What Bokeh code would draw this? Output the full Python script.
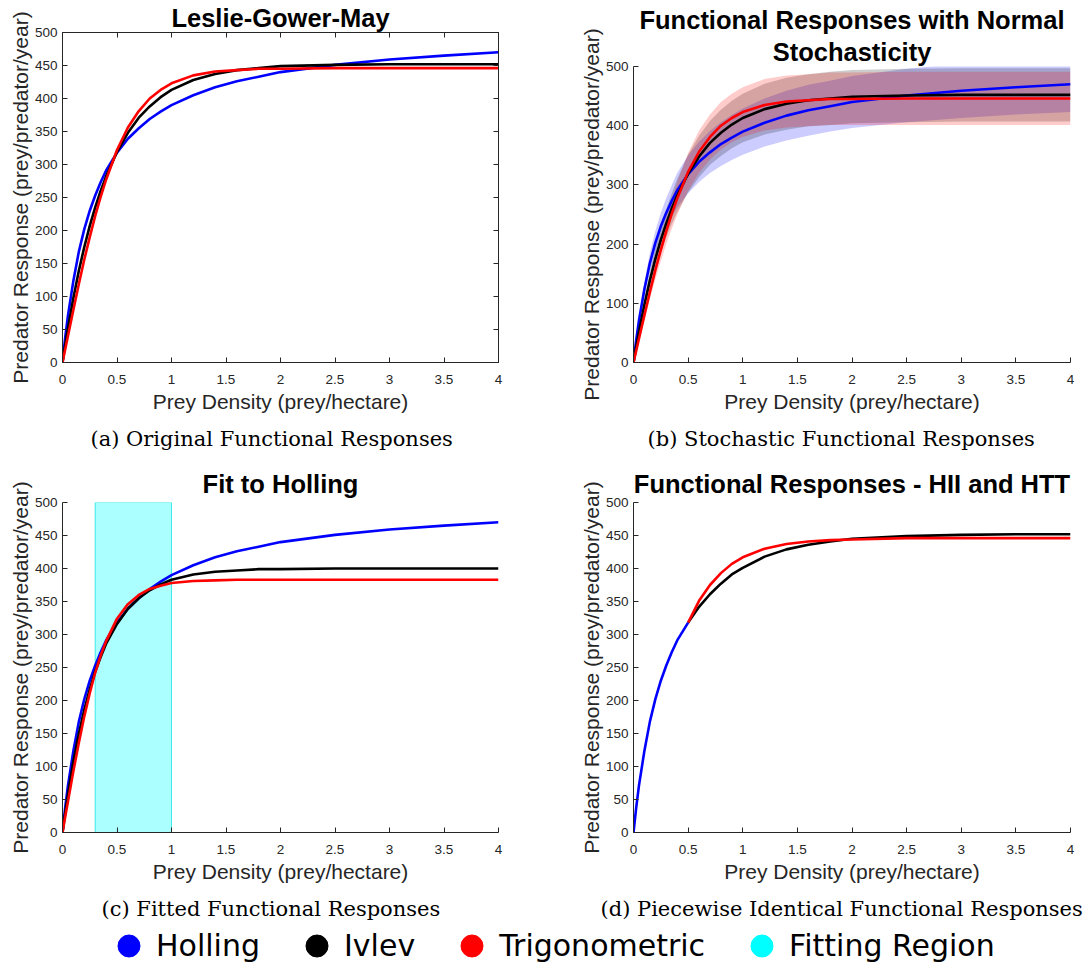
from bokeh.plotting import figure
from bokeh.layouts import column, row
from bokeh.models import (Range1d, FixedTicker, NumeralTickFormatter, LinearAxis,
                          Title, Legend, LegendItem)
from bokeh.embed import file_html
from bokeh.resources import INLINE

# ---------------- data ----------------
prey = [0, 0.025, 0.05, 0.1, 0.15, 0.2, 0.25, 0.3, 0.35, 0.4, 0.5, 0.6, 0.7, 0.8,
        0.9, 1.0, 1.2, 1.4, 1.6, 1.8, 2.0, 2.5, 3.0, 3.5, 4.0]
holling = [0, 38, 71, 124, 168, 202, 230, 253, 273, 291, 318, 339, 355, 369, 380,
           390, 405, 417, 426, 433, 440, 451, 459, 465, 470]
ivlev = [0, 27, 52, 98, 139, 175, 207, 235, 260, 282, 319, 348, 371, 388, 402,
         413, 428, 437, 443, 446, 449, 451, 452, 452, 452]
trig = [0, 20, 40, 80, 119, 156, 190, 222, 251, 277, 322, 356, 381, 400, 413,
        423, 435, 441, 443, 445, 445, 446, 446, 446, 446]

# stochastic envelopes (panel b)
holling_lo = [0, 34, 64, 112, 151, 182, 207, 228, 246, 262, 286, 305, 320, 332, 342,
              351, 365, 375, 383, 390, 396, 406, 413, 419, 423]
holling_hi = [0, 42, 78, 136, 185, 222, 253, 278, 300, 320, 350, 373, 391, 406, 418,
              429, 446, 459, 469, 476, 484, 496, 505, 512, 517]
ivlev_lo = [0, 24, 47, 88, 125, 158, 186, 212, 234, 254, 287, 313, 334, 349, 362,
            372, 385, 393, 399, 401, 404, 406, 407, 407, 407]
ivlev_hi = [0, 30, 57, 108, 153, 193, 228, 259, 286, 310, 351, 383, 408, 427, 442,
            454, 471, 481, 487, 491, 494, 496, 497, 497, 497]
trig_lo = [0, 18, 36, 72, 107, 140, 171, 200, 226, 249, 290, 320, 343, 360, 372,
           381, 392, 397, 399, 401, 401, 401, 401, 401, 401]
trig_hi = [0, 22, 44, 88, 131, 172, 209, 244, 276, 305, 354, 392, 419, 440, 454,
           465, 479, 485, 487, 490, 490, 491, 491, 491, 491]

# fitted to Holling (panel c)
ivlev_fit = [0, 30, 58, 108, 150, 186, 217, 244, 266, 286, 316, 339, 355, 367, 376,
             383, 391, 395, 397, 399, 399, 400, 400, 400, 400]
trig_fit = [0, 24, 47, 93, 136, 176, 211, 242, 268, 290, 324, 346, 360, 369, 374,
            378, 381, 382, 383, 383, 383, 383, 383, 383, 383]
fit_region = [0.3, 1.0]

# piecewise (panel d)
prey_hol_d = [0, 0.025, 0.05, 0.1, 0.15, 0.2, 0.25, 0.3, 0.35, 0.4, 0.5]
holling_d = [0, 38, 71, 124, 168, 202, 230, 253, 273, 291, 318]
prey_d = [0.5, 0.6, 0.7, 0.8, 0.9, 1.0, 1.2, 1.4, 1.6, 1.8, 2.0, 2.5, 3.0, 3.5, 4.0]
ivlev_d = [318, 342, 361, 377, 391, 401, 418, 429, 436, 441, 445, 449, 451, 452, 452]
trig_d = [318, 351, 375, 393, 407, 417, 430, 437, 441, 443, 444, 446, 446, 446, 446]

x_ticks = [0, 0.5, 1, 1.5, 2, 2.5, 3, 3.5, 4]
y_ticks_fine = [0, 50, 100, 150, 200, 250, 300, 350, 400, 450, 500]
y_ticks_coarse = [0, 100, 200, 300, 400, 500]

legend_labels = ["Holling", "Ivlev", "Trigonometric", "Fitting Region"]
legend_colors = ["#0000ff", "#000000", "#ff0000", "#00ffff"]

# ---------------- styling ----------------
SANS = "Liberation Sans"
SERIF = "DejaVu Serif"
AXC = "#262626"
LW = 2.6
TITLE_SIZE = "25.5px"


def style_axis(ax, ticks, labels=True):
    ax.ticker = FixedTicker(ticks=ticks)
    ax.major_tick_in = 5
    ax.major_tick_out = 0
    ax.minor_tick_in = 0
    ax.minor_tick_out = 0
    ax.axis_line_color = AXC
    ax.major_tick_line_color = AXC
    ax.major_label_text_color = AXC
    ax.major_label_text_font = SANS
    ax.major_label_text_font_size = "13.5px"
    ax.axis_label_text_font = SANS
    ax.axis_label_text_font_style = "normal"
    ax.axis_label_text_color = AXC
    ax.axis_label_text_font_size = "21px"
    if not labels:
        ax.major_label_text_alpha = 0
        ax.major_label_standoff = 0


def panel(w, h, bl, br, bt, bb, yticks, titles, caption, cap_offset, box=False):
    p = figure(width=w, height=h, x_range=Range1d(0, 4), y_range=Range1d(0, 500),
               output_backend="svg", toolbar_location=None, title=None,
               min_border_left=bl, min_border_right=br,
               min_border_top=bt, min_border_bottom=bb)
    p.grid.visible = False
    p.outline_line_color = AXC if box else None
    xa, ya = p.xaxis[0], p.yaxis[0]
    style_axis(xa, x_ticks)
    style_axis(ya, yticks)
    xa.formatter = NumeralTickFormatter(format="0.[0]")
    xa.major_label_standoff = 12
    ya.major_label_standoff = 5
    xa.axis_label = "Prey Density (prey/hectare)"
    ya.axis_label = "Predator Response (prey/predator/year)"
    xa.axis_label_standoff = 3
    ya.axis_label_standoff = 0
    if box:
        top = LinearAxis()
        right = LinearAxis()
        style_axis(top, x_ticks, labels=False)
        style_axis(right, yticks, labels=False)
        p.add_layout(top, "above")
        p.add_layout(right, "right")
    # titles: innermost first
    for text, standoff in titles:
        p.add_layout(Title(text=text, align="center", standoff=standoff,
                           text_font=SANS, text_font_style="bold",
                           text_font_size=TITLE_SIZE, text_color="black"), "above")
    p.add_layout(Title(text=caption, align="left", offset=cap_offset, standoff=18,
                       text_font=SERIF, text_font_style="normal",
                       text_font_size="21px", text_color="black"), "below")
    return p


# panel (a)
pa = panel(544, 459, 62, 46, 32, 97, y_ticks_fine,
           [("Leslie-Gower-May", 1)], "(a) Original Functional Responses", 28, box=True)
pa.line(prey, holling, color=legend_colors[0], line_width=LW)
pa.line(prey, ivlev, color=legend_colors[1], line_width=LW)
pa.line(prey, trig, color=legend_colors[2], line_width=LW)

# panel (b)
pb = panel(544, 459, 89, 18, 66, 97, y_ticks_coarse,
           [("Stochasticity", 2), ("Functional Responses with Normal", 2)],
           "(b) Stochastic Functional Responses", 14)
pb.varea(x=prey, y1=holling_lo, y2=holling_hi, fill_color="#0000ff", fill_alpha=0.2)
pb.varea(x=prey, y1=ivlev_lo, y2=ivlev_hi, fill_color="#000000", fill_alpha=0.2)
pb.varea(x=prey, y1=trig_lo, y2=trig_hi, fill_color="#ff0000", fill_alpha=0.2)
pb.line(prey, holling, color=legend_colors[0], line_width=LW)
pb.line(prey, ivlev, color=legend_colors[1], line_width=LW)
pb.line(prey, trig, color=legend_colors[2], line_width=LW)

# panel (c)
pc = panel(544, 470, 62, 46, 43, 97, y_ticks_fine,
           [("Fit to Holling", 9)], "(c) Fitted Functional Responses", 39)
pc.quad(left=fit_region[0], right=fit_region[1], bottom=0, top=500,
        fill_color="#00ffff", fill_alpha=0.33, line_color="#00e0e0", line_alpha=0.7,
        line_width=1)
pc.line(prey, holling, color=legend_colors[0], line_width=LW)
pc.line(prey, ivlev_fit, color=legend_colors[1], line_width=LW)
pc.line(prey, trig_fit, color=legend_colors[2], line_width=LW)

# panel (d)
pd = panel(544, 470, 89, 18, 43, 97, y_ticks_fine,
           [("Functional Responses - HII and HTT", 9)],
           "(d) Piecewise Identical Functional Responses", -33)
pd.line(prey_d, ivlev_d, color=legend_colors[1], line_width=LW)
pd.line(prey_d, trig_d, color=legend_colors[2], line_width=LW)
pd.line(prey_hol_d, holling_d, color=legend_colors[0], line_width=LW)

# legend strip (proxy glyphs sit outside the strip's visible range)
lg = figure(width=1088, height=35, x_range=Range1d(0, 1), y_range=Range1d(0, 1),
            x_axis_type=None, y_axis_type=None, output_backend="svg",
            toolbar_location=None, min_border=0, title=None)
lg.outline_line_color = None
lg.grid.visible = False
items = []
for lab, col in zip(legend_labels, legend_colors):
    r = lg.scatter(x=[-5], y=[-5], marker="circle", size=22, fill_color=col,
                   line_color=col)
    items.append(LegendItem(label=lab, renderers=[r]))
legend = Legend(items=items, orientation="horizontal", location=(101, -9),
                glyph_width=55, glyph_height=55, label_standoff=-18, spacing=29,
                padding=0, margin=0, border_line_color=None, background_fill_alpha=0,
                label_text_font="DejaVu Sans", label_text_font_size="30px",
                label_text_color="black")
lg.add_layout(legend)

layout = column(row(column(pa, pc), column(pb, pd)), lg)
open("out.html", "w").write(file_html(layout, INLINE))
